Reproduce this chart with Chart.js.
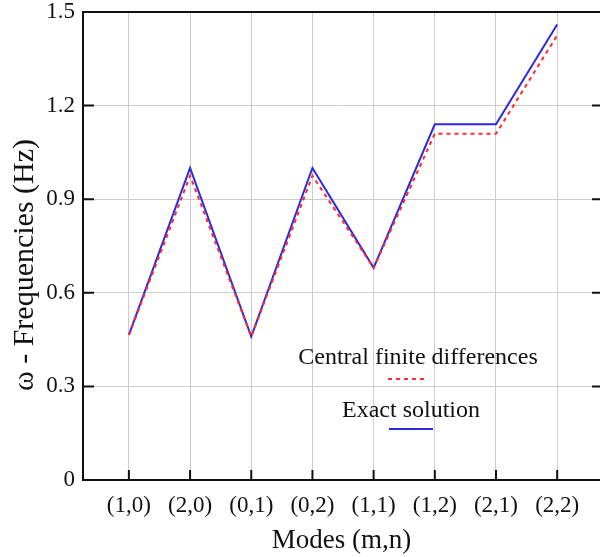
<!DOCTYPE html>
<html>
<head>
<meta charset="utf-8">
<script src="https://cdn.jsdelivr.net/npm/chart.js@4"></script>
<style>
  html, body { margin: 0; padding: 0; background: #fff; }
  #wrap { width: 600px; height: 557px; }
</style>
</head>
<body>
<div id="wrap"><canvas id="myChart"></canvas></div>
<script>
// DATA
const modes = ['(1,0)', '(2,0)', '(0,1)', '(0,2)', '(1,1)', '(1,2)', '(2,1)', '(2,2)'];
const exactValues = [0.465, 1.0, 0.46, 1.0, 0.68, 1.14, 1.14, 1.46];
const finiteDiffValues = [0.465, 0.975, 0.46, 0.975, 0.68, 1.11, 1.11, 1.425];
const yTicks = [0, 0.3, 0.6, 0.9, 1.2, 1.5];

const serif = '"Liberation Serif", "DejaVu Serif", serif';

// frame, inward ticks, y title and the legend drawn inside the plot
const framePlugin = {
  id: 'frame',
  afterDraw(chart) {
    const { ctx, chartArea: a, scales } = chart;
    ctx.save();
    ctx.strokeStyle = '#111';
    ctx.lineWidth = 2;
    ctx.beginPath();
    ctx.moveTo(a.right, a.top); ctx.lineTo(a.left, a.top);
    ctx.lineTo(a.left, a.bottom); ctx.lineTo(a.right, a.bottom);
    ctx.stroke();
    ctx.beginPath();
    yTicks.forEach(v => {
      const y = scales.y.getPixelForValue(v);
      ctx.moveTo(a.left, y); ctx.lineTo(a.left + 11, y);
      ctx.moveTo(a.right, y); ctx.lineTo(a.right - 8, y);
    });
    modes.forEach((m, i) => {
      const x = scales.x.getPixelForValue(i);
      ctx.moveTo(x, a.bottom); ctx.lineTo(x, a.bottom - 10);
    });
    ctx.stroke();

    ctx.fillStyle = '#111';
    ctx.textAlign = 'center';
    ctx.textBaseline = 'middle';

    // y axis title
    ctx.save();
    ctx.translate(25, 265);
    ctx.rotate(-Math.PI / 2);
    ctx.font = '30px ' + serif;
    ctx.fillText('ω - Frequencies (Hz)', 0, 0);
    ctx.restore();

    // legend
    ctx.font = '24px ' + serif;
    ctx.fillText('Central finite differences', 418, 358);
    ctx.fillText('Exact solution', 411, 411);
    const ds = chart.data.datasets;
    ctx.strokeStyle = ds[0].borderColor;
    ctx.setLineDash(ds[0].borderDash);
    ctx.beginPath(); ctx.moveTo(388, 379); ctx.lineTo(428, 379); ctx.stroke();
    ctx.strokeStyle = ds[1].borderColor;
    ctx.setLineDash([]);
    ctx.beginPath(); ctx.moveTo(389, 429); ctx.lineTo(433, 429); ctx.stroke();
    ctx.restore();
  }
};

const ctx = document.getElementById('myChart').getContext('2d');
const myChart = new Chart(ctx, {
  type: 'line',
  data: {
    datasets: [{
      label: 'Central finite differences',
      data: finiteDiffValues.map((v, i) => ({ x: i, y: v })),
      borderColor: '#ff2a2a',
      borderWidth: 2,
      borderDash: [4, 4],
      pointRadius: 0,
      tension: 0
    }, {
      label: 'Exact solution',
      data: exactValues.map((v, i) => ({ x: i, y: v })),
      borderColor: '#2a2ae0',
      borderWidth: 2,
      pointRadius: 0,
      tension: 0
    }]
  },
  options: {
    responsive: true,
    maintainAspectRatio: false,
    animation: false,
    layout: { padding: { top: 12, right: 0, left: 0, bottom: 0 } },
    plugins: { legend: { display: false }, tooltip: { enabled: false } },
    scales: {
      x: {
        type: 'linear',
        min: -0.75,
        max: 7.7,
        afterBuildTicks: s => { s.ticks = modes.map((m, i) => ({ value: i })); },
        afterFit: s => { s.height = 77; s.paddingLeft = 0; s.paddingRight = 0; },
        ticks: {
          callback: (v) => modes[v],
          font: { family: serif, size: 23 },
          color: '#111',
          padding: 12,
          maxRotation: 0,
          autoSkip: false
        },
        grid: { color: '#cccccc', lineWidth: 1, drawTicks: false },
        border: { display: false },
        title: {
          display: true,
          text: 'Modes (m,n)',
          font: { family: serif, size: 27 },
          color: '#111',
          padding: { top: 0, bottom: 0 }
        }
      },
      y: {
        min: 0,
        max: 1.5,
        afterBuildTicks: s => { s.ticks = yTicks.map(v => ({ value: v })); },
        afterFit: s => { s.width = 83; s.paddingTop = 0; s.paddingBottom = 0; },
        ticks: {
          callback: v => v === 0 ? '0' : v.toFixed(1),
          font: { family: serif, size: 23 },
          color: '#111',
          padding: 8
        },
        grid: { color: '#cccccc', lineWidth: 1, drawTicks: false },
        border: { display: false }
      }
    }
  },
  plugins: [framePlugin]
});
</script>
</body>
</html>
